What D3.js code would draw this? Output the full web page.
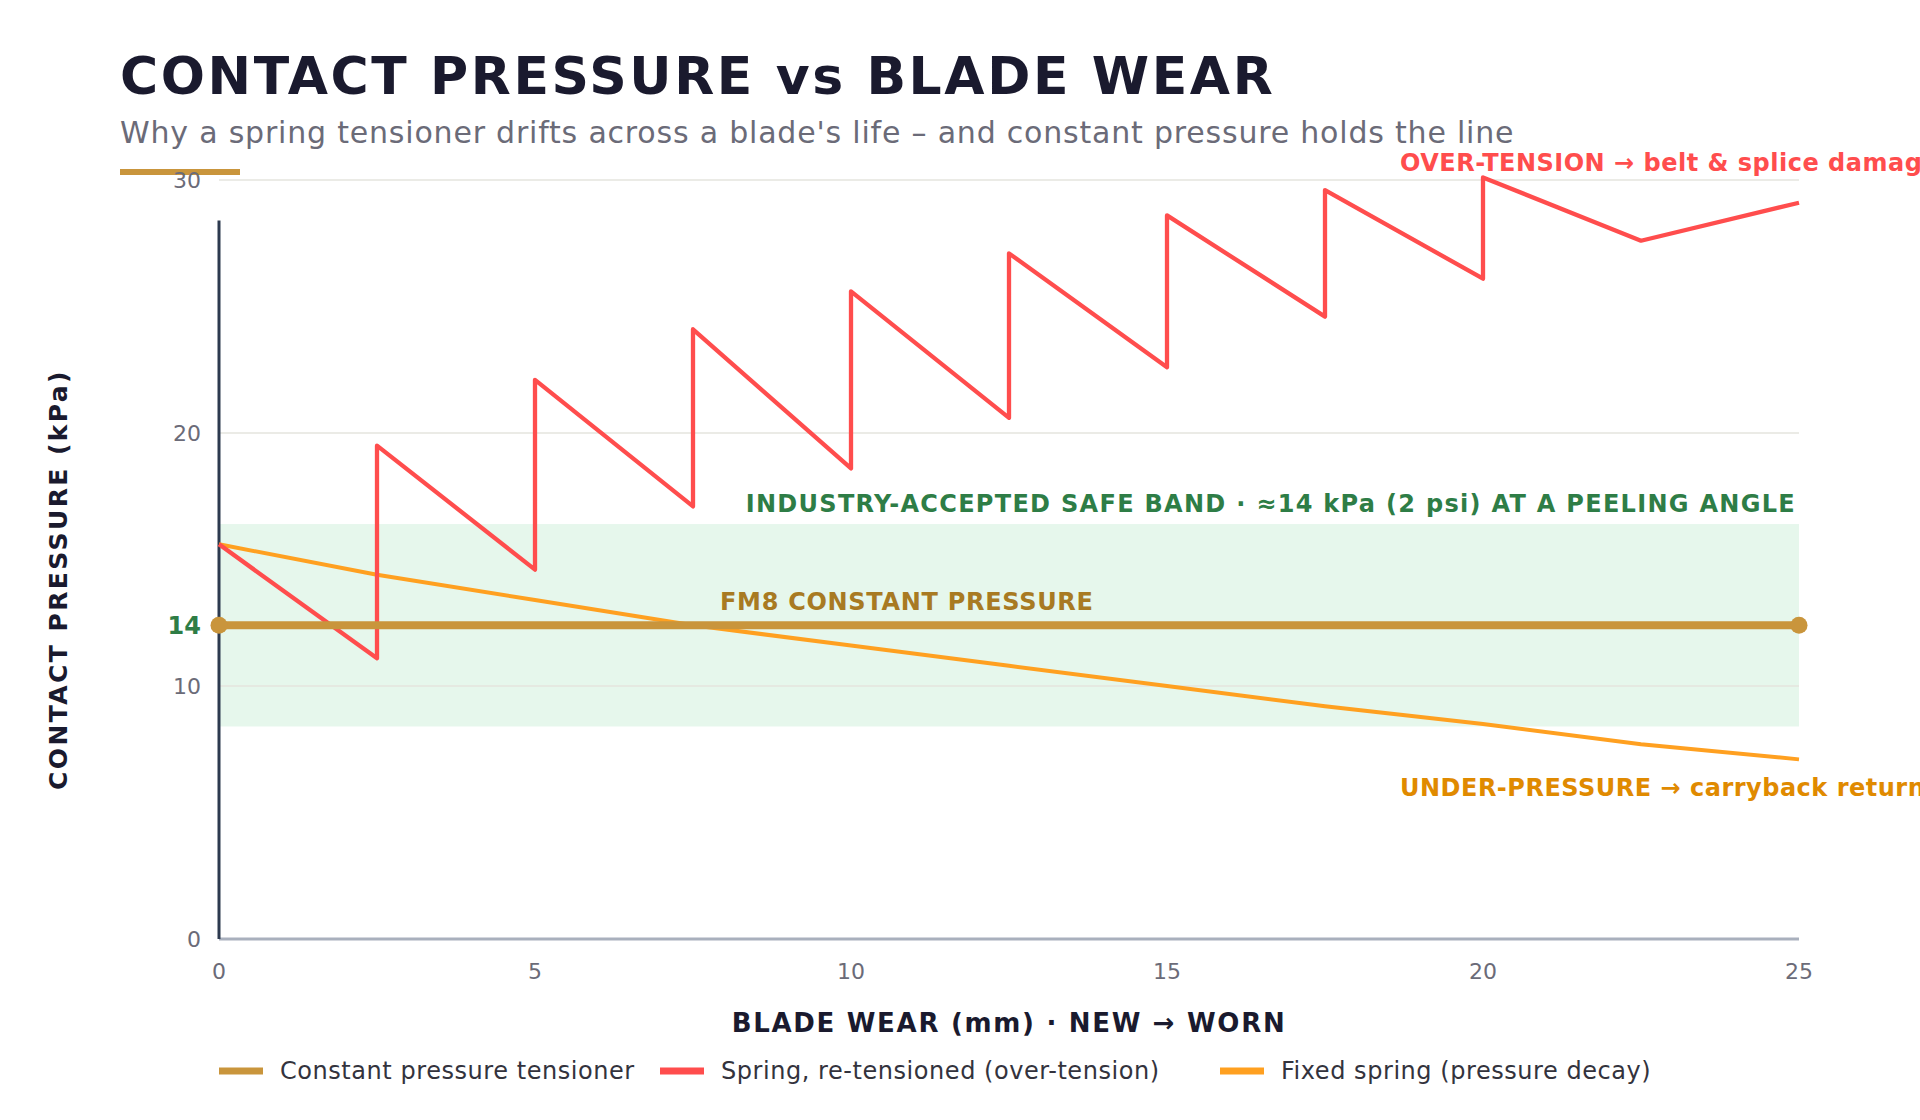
<!DOCTYPE html>
<html><head><meta charset="utf-8">
<script src="https://cdn.jsdelivr.net/npm/d3@7"></script>
<style>
html,body{margin:0;padding:0;background:#fff;}
svg{display:block;font-family:"DejaVu Sans",sans-serif;}
</style></head>
<body><svg id="chart" width="1920" height="1120"></svg>
<script>
// ---- data ----
const redX = [0,2.5,2.5,5,5,7.5,7.5,10,10,12.5,12.5,15,15,17.5,17.5,20,20,22.5,25];
const redY = [15.6,11.1,19.5,14.6,22.1,17.1,24.1,18.6,25.6,20.6,27.1,22.6,28.6,24.6,29.6,26.1,30.1,27.6,29.1];
const orangeX = [0,2.5,5,7.5,10,12.5,15,17.5,20,22.5,25];
const orangeY = [15.6,14.4,13.4,12.4,11.6,10.8,10.0,9.2,8.5,7.7,7.1];
const constX = [0,25];
const constY = [12.4,12.4];
const bandLow = 8.4, bandHigh = 16.4;
const yTicks = [0,10,20,30];
const xTicks = [0,5,10,15,20,25];
const markTickLabel = "14";
const legendItems = ["Constant pressure tensioner","Spring, re-tensioned (over-tension)","Fixed spring (pressure decay)"];
const legendColors = ["#c9953c","#ff4d4d","#ffa020"];

const svg = d3.select("#chart");
const x = d3.scaleLinear().domain([0,25]).range([219,1799]);
const y = d3.scaleLinear().domain([0,30]).range([939,180]);

// title
svg.append("text").attr("x",120).attr("y",94).attr("font-size",52).attr("font-weight","bold")
  .attr("letter-spacing",2.6).attr("fill","#1a1a2e").text("CONTACT PRESSURE vs BLADE WEAR");
svg.append("text").attr("x",120).attr("y",143).attr("font-size",30).attr("fill","#6b6b78")
  .attr("letter-spacing",0.8)
  .text("Why a spring tensioner drifts across a blade's life \u2013 and constant pressure holds the line");
svg.append("rect").attr("x",120).attr("y",169).attr("width",120).attr("height",6).attr("fill","#c9953c");

// band
svg.append("rect").attr("x",x(0)).attr("width",x(25)-x(0))
  .attr("y",y(bandHigh)).attr("height",y(bandLow)-y(bandHigh)).attr("fill","#e6f7ec");

// grid
svg.append("g").selectAll("line").data(yTicks).join("line")
  .attr("x1",x(0)).attr("x2",x(25)).attr("y1",d=>y(d)).attr("y2",d=>y(d))
  .attr("stroke","#e4e4de").attr("stroke-width",1.5);

// y tick labels
svg.append("g").selectAll("text").data(yTicks).join("text")
  .attr("x",201).attr("y",d=>y(d)).attr("dy","0.35em").attr("text-anchor","end")
  .attr("font-size",22).attr("fill","#6b6b78").text(d=>d);
svg.append("text").attr("x",201).attr("y",y(constY[0])).attr("dy","0.35em").attr("text-anchor","end")
  .attr("font-size",24).attr("font-weight","bold").attr("fill","#2e7d46").text(markTickLabel);

// x tick labels
svg.append("g").selectAll("text").data(xTicks).join("text")
  .attr("x",d=>x(d)).attr("y",979).attr("text-anchor","middle")
  .attr("font-size",22).attr("fill","#6b6b78").text(d=>d);

// axes lines
svg.append("line").attr("x1",x(0)).attr("x2",x(25)).attr("y1",y(0)).attr("y2",y(0))
  .attr("stroke","#a9b0bd").attr("stroke-width",3);
svg.append("line").attr("x1",x(0)).attr("x2",x(0)).attr("y1",y(28.4)).attr("y2",y(0))
  .attr("stroke","#2d3a4f").attr("stroke-width",3);

// lines
const line = d3.line().x(d=>x(d[0])).y(d=>y(d[1]));
svg.append("path").datum(orangeX.map((v,i)=>[v,orangeY[i]])).attr("d",line)
  .attr("fill","none").attr("stroke","#ffa020").attr("stroke-width",4).attr("stroke-linejoin","round");
svg.append("path").datum(redX.map((v,i)=>[v,redY[i]])).attr("d",line)
  .attr("fill","none").attr("stroke","#ff4d4d").attr("stroke-width",4.3).attr("stroke-linejoin","round");
svg.append("path").datum(constX.map((v,i)=>[v,constY[i]])).attr("d",line)
  .attr("fill","none").attr("stroke","#c9953c").attr("stroke-width",8);
svg.append("g").selectAll("circle").data(constX.map((v,i)=>[v,constY[i]])).join("circle")
  .attr("cx",d=>x(d[0])).attr("cy",d=>y(d[1])).attr("r",8.5).attr("fill","#c9953c");

// annotations
svg.append("text").attr("x",1400).attr("y",171).attr("font-size",24).attr("font-weight","bold")
  .attr("letter-spacing",0.5).attr("fill","#ff4d4d").text("OVER-TENSION \u2192 belt & splice damage");
svg.append("text").attr("x",1796).attr("y",512).attr("text-anchor","end").attr("font-size",24)
  .attr("font-weight","bold").attr("letter-spacing",1.3).attr("fill","#2e7d46")
  .text("INDUSTRY-ACCEPTED SAFE BAND \u00b7 \u224814 kPa (2 psi) AT A PEELING ANGLE");
svg.append("text").attr("x",720).attr("y",610).attr("font-size",24).attr("font-weight","bold")
  .attr("letter-spacing",0.7).attr("fill","#a87a22").text("FM8 CONSTANT PRESSURE");
svg.append("text").attr("x",1400).attr("y",796).attr("font-size",24).attr("font-weight","bold")
  .attr("letter-spacing",0.5).attr("fill","#e08a00").text("UNDER-PRESSURE \u2192 carryback returns");

// axis titles
svg.append("text").attr("x",(x(0)+x(25))/2).attr("y",1032).attr("text-anchor","middle")
  .attr("font-size",26).attr("font-weight","bold").attr("letter-spacing",1.7).attr("fill","#1a1a2e")
  .text("BLADE WEAR (mm) \u00b7 NEW \u2192 WORN");
svg.append("text").attr("transform","translate(67,579.5) rotate(-90)").attr("text-anchor","middle")
  .attr("font-size",25).attr("font-weight","bold").attr("letter-spacing",2.4).attr("fill","#1a1a2e")
  .text("CONTACT PRESSURE (kPa)");

// legend
const legX = [219,660,1220];
const lg = svg.append("g").selectAll("g").data(legendItems).join("g")
  .attr("transform",(d,i)=>`translate(${legX[i]},1071)`);
lg.append("rect").attr("x",0).attr("y",-3.5).attr("width",44).attr("height",7).attr("fill",(d,i)=>legendColors[i]);
lg.append("text").attr("x",61).attr("dy","0.35em").attr("font-size",24).attr("letter-spacing",0.55)
  .attr("fill","#33333d").text(d=>d);
</script></body></html>
